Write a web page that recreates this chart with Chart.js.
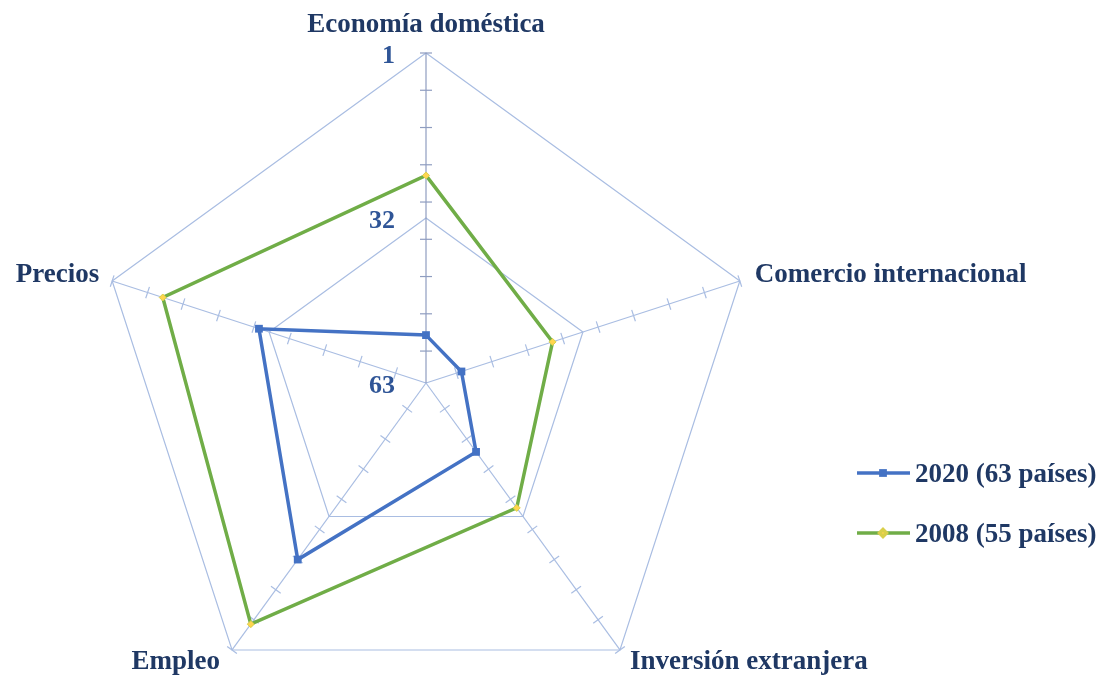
<!DOCTYPE html>
<html>
<head>
<meta charset="utf-8">
<script src="https://cdn.jsdelivr.net/npm/chart.js@4.4.0/dist/chart.umd.min.js"></script>
<style>
  html, body { margin: 0; padding: 0; background: #fff; }
  #wrap { position: relative; width: 1109px; height: 680px; }
</style>
</head>
<body>
<div id="wrap"><canvas id="radar"></canvas></div>
<script>
const categories = ["Economía doméstica", "Comercio internacional", "Inversión extranjera", "Empleo", "Precios"];
const ranks2020 = [54, 56, 47, 22, 30];
const ranks2008 = [24, 38, 34, 7, 11];
const seriesNames = ["2020 (63 países)", "2008 (55 países)"];
const tickLabels = [1, 32, 63];
const minorTicks = [1, 8, 15, 22, 29, 36, 43, 50, 57];

const navy = "#1F3864";
const tickBlue = "#2F5597";
const blue = "#4472C4";
const green = "#70AD47";
const gridColor = "#A9BDE2";
const serif = "'Liberation Serif', 'Times New Roman', serif";

// where each category label sits relative to its outer vertex
const labelPlacement = [
  { align: "center", dx: 0, dy: -21 },
  { align: "left", dx: 15, dy: 1 },
  { align: "left", dx: 10, dy: 19 },
  { align: "right", dx: -12, dy: 19 },
  { align: "right", dx: -13, dy: 1 },
];

const radarExtras = {
  id: "radarExtras",
  beforeDatasetsDraw(chart) {
    const scale = chart.scales.r;
    const ctx = chart.ctx;
    ctx.save();
    ctx.lineWidth = 1.2;
    categories.forEach((_, i) => {
      ctx.strokeStyle = i === 0 ? "#8F9DC0" : gridColor;
      const angle = scale.getIndexAngle(i) - Math.PI / 2;
      const px = -Math.sin(angle) * 6;
      const py = Math.cos(angle) * 6;
      minorTicks.forEach((v) => {
        const p = scale.getPointPositionForValue(i, v);
        ctx.beginPath();
        ctx.moveTo(p.x - px, p.y - py);
        ctx.lineTo(p.x + px, p.y + py);
        ctx.stroke();
      });
    });
    ctx.restore();
  },
  afterDraw(chart) {
    const scale = chart.scales.r;
    const ctx = chart.ctx;
    ctx.save();
    ctx.textBaseline = "alphabetic";

    // category labels
    ctx.fillStyle = navy;
    ctx.font = "bold 27px " + serif;
    categories.forEach((label, i) => {
      const p = scale.getPointPosition(i, scale.drawingArea);
      const place = labelPlacement[i];
      ctx.textAlign = place.align;
      ctx.fillText(label, p.x + place.dx, p.y + place.dy);
    });

    // rank labels on the first axis
    ctx.fillStyle = tickBlue;
    ctx.font = "bold 26px " + serif;
    ctx.textAlign = "right";
    tickLabels.forEach((v) => {
      const y = scale.yCenter - scale.getDistanceFromCenterForValue(v);
      ctx.fillText(String(v), scale.xCenter - 31, y + 9.5);
    });

    // legend
    ctx.font = "bold 27px " + serif;
    ctx.textAlign = "left";
    chart.data.datasets.forEach((ds, i) => {
      const y = 473 + i * 60;
      ctx.strokeStyle = ds.borderColor;
      ctx.lineWidth = 3.5;
      ctx.beginPath();
      ctx.moveTo(857, y);
      ctx.lineTo(910, y);
      ctx.stroke();
      ctx.fillStyle = ds.pointBackgroundColor;
      ctx.strokeStyle = ds.pointBorderColor;
      Chart.helpers.drawPoint(ctx, {
        pointStyle: ds.pointStyle,
        radius: ds.pointRadius,
        rotation: 0,
        borderWidth: ds.pointBorderWidth,
      }, 883, y);
      ctx.fillStyle = navy;
      ctx.fillText(ds.label, 915, y + 9);
    });
    ctx.restore();
  },
};

new Chart(document.getElementById("radar"), {
  type: "radar",
  plugins: [radarExtras],
  data: {
    labels: categories,
    datasets: [
      {
        label: seriesNames[0],
        data: ranks2020,
        borderColor: blue,
        borderWidth: 3.5,
        fill: false,
        pointStyle: "rect",
        pointRadius: 5.5,
        pointBackgroundColor: blue,
        pointBorderColor: blue,
        pointBorderWidth: 0,
      },
      {
        label: seriesNames[1],
        data: ranks2008,
        borderColor: green,
        borderWidth: 3.5,
        fill: false,
        pointStyle: "rectRot",
        pointRadius: 3.5,
        pointBackgroundColor: "#FFD54F",
        pointBorderColor: "#D9CF4A",
        pointBorderWidth: 1,
      },
    ],
  },
  options: {
    responsive: true,
    maintainAspectRatio: false,
    animation: false,
    layout: { padding: { left: 96, right: 353, top: 53, bottom: 0 } },
    plugins: {
      legend: { display: false },
      tooltip: { enabled: false },
    },
    elements: { line: { tension: 0 } },
    scales: {
      r: {
        min: 1,
        max: 63,
        reverse: true,
        ticks: { stepSize: 31, display: false },
        grid: { color: gridColor, lineWidth: 1.2 },
        angleLines: {
          color: (c) => (c.index === 0 ? "#8F9DC0" : gridColor),
          lineWidth: 1.2,
        },
        pointLabels: { display: false },
        // let the pentagon use the full width and hang below the canvas edge like the original
        afterFit: (scale) => {
          scale.drawingArea = Math.floor(scale.width / 2);
          scale.yCenter = scale.top + scale.drawingArea;
        },
      },
    },
  },
});
</script>
</body>
</html>
